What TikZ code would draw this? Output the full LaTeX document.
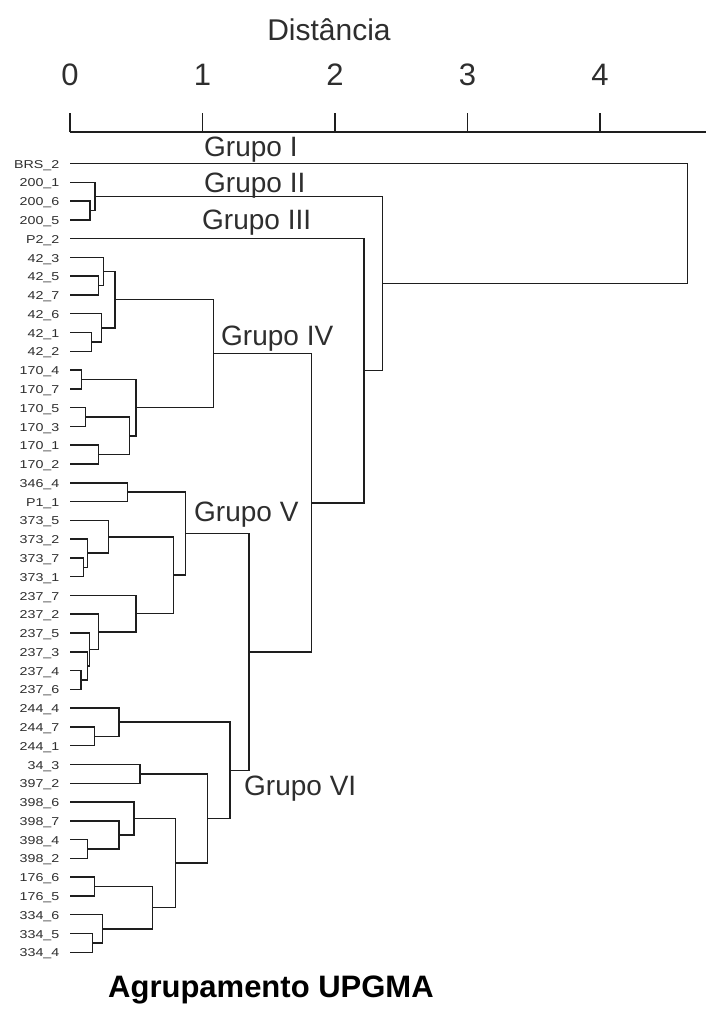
\documentclass[tikz,border=0pt]{standalone}
\usepackage{fontspec}
\setmainfont{Liberation Sans}
\newfontfamily\leaffont[FakeStretch=1.25]{Liberation Sans}
\usetikzlibrary{calc}
\definecolor{ink}{HTML}{1E1E1E}
\definecolor{txt}{HTML}{2E2E2E}
\tikzset{
  dline/.style={draw=ink, line width=1.5pt},
  leaflab/.style={inner sep=0pt, text=txt, font=\leaffont\fontsize{11.4}{12}\selectfont},
  grplab/.style={inner sep=0pt, text=txt, font=\fontsize{28}{30}\selectfont, anchor=base west},
  ticklab/.style={inner sep=0pt, text=txt, font=\fontsize{31}{32}\selectfont, anchor=base},
}
\newcommand\dmerge[4]{%
  \path let \p1=(#2), \p2=(#3) in (#4pt,{0.5*(\y1+\y2)}) coordinate (#1);
  \draw[dline] (#2) -| (#1) |- (#3);
}
\begin{document}
\begin{tikzpicture}[x=1pt,y=-1pt]
\fill[white] (0,0) rectangle (706,1012);
\useasboundingbox (0,0) rectangle (706,1012);
% axis
\node[inner sep=0pt, text=txt, font=\fontsize{30}{32}\selectfont, anchor=base] (dist) at (329,40) {Distância};
\coordinate (ax0) at (70,132);
\coordinate (ax1) at (706,132);
\draw[dline] (ax0) -- (ax1);
\foreach \k in {0,...,4}{
  \coordinate (tk\k) at ({70+132.5*\k},132);
  \coordinate (tt\k) at ({70+132.5*\k},113);
  \draw[dline] (tk\k) -- (tt\k);
  \node[ticklab] (tl\k) at ({70+132.5*\k},85) {\k};
}
% leaves
\foreach \lab [count=\i from 0] in {BRS\_2,200\_1,200\_6,200\_5,P2\_2,42\_3,42\_5,42\_7,42\_6,42\_1,42\_2,170\_4,170\_7,170\_5,170\_3,170\_1,170\_2,346\_4,P1\_1,373\_5,373\_2,373\_7,373\_1,237\_7,237\_2,237\_5,237\_3,237\_4,237\_6,244\_4,244\_7,244\_1,34\_3,397\_2,398\_6,398\_7,398\_4,398\_2,176\_6,176\_5,334\_6,334\_5,334\_4}{
  \pgfmathsetmacro\yy{163.5+18.78*\i}
  \node[leaflab, anchor=base east] (l\i) at (59.5,\yy+4.6) {\lab};
  \coordinate (p\i) at (70,\yy);
}
% Grupo II (200)
\dmerge{m1}{p2}{p3}{90}
\dmerge{m2}{p1}{m1}{95}
% 42 cluster
\dmerge{a1}{p6}{p7}{98.3}
\dmerge{a2}{p5}{a1}{103.3}
\dmerge{a3}{p9}{p10}{91.7}
\dmerge{a4}{p8}{a3}{101.7}
\dmerge{a5}{a2}{a4}{115}
% 170 cluster
\dmerge{b1}{p11}{p12}{81.7}
\dmerge{b2}{p13}{p14}{85.7}
\dmerge{b3}{p15}{p16}{98.3}
\dmerge{b4}{b2}{b3}{129.3}
\dmerge{b5}{b1}{b4}{136}
\dmerge{g4}{a5}{b5}{213.5}
% Grupo V
\dmerge{c1}{p17}{p18}{127.7}
\dmerge{c2}{p21}{p22}{83.3}
\dmerge{c3}{p20}{c2}{87.3}
\dmerge{c4}{p19}{c3}{108.3}
\dmerge{d1}{p27}{p28}{81}
\dmerge{d2}{p26}{d1}{87.3}
\dmerge{d3}{p25}{d2}{89.5}
\dmerge{d4}{p24}{d3}{98.3}
\dmerge{d5}{p23}{d4}{136}
\dmerge{c5}{c4}{d5}{173.3}
\dmerge{g5}{c1}{c5}{185.7}
% Grupo VI
\dmerge{e1}{p30}{p31}{94.3}
\dmerge{e2}{p29}{e1}{119}
\dmerge{f1}{p32}{p33}{140}
\dmerge{h1}{p36}{p37}{87.7}
\dmerge{h2}{p35}{h1}{119}
\dmerge{h3}{p34}{h2}{134}
\dmerge{k1}{p38}{p39}{94.3}
\dmerge{k2}{p41}{p42}{92.3}
\dmerge{k3}{p40}{k2}{102.3}
\dmerge{k4}{k1}{k3}{152.7}
\dmerge{h4}{h3}{k4}{175.7}
\dmerge{f2}{f1}{h4}{207.3}
\dmerge{g6}{e2}{f2}{230}
% upper levels
\dmerge{g56}{g5}{g6}{249}
\dmerge{g456}{g4}{g56}{311.3}
\dmerge{g3}{p4}{g456}{363.8}
\dmerge{g23}{m2}{g3}{382.7}
\dmerge{root}{p0}{g23}{687.7}
% group labels
\node[grplab] (G1) at (204,156.5) {Grupo I};
\node[grplab] (G2) at (204,192) {Grupo II};
\node[grplab] (G3) at (202,229.5) {Grupo III};
\node[grplab] (G4) at (221,345) {Grupo IV};
\node[grplab] (G5) at (194,521.5) {Grupo V};
\node[grplab] (G6) at (244,795) {Grupo VI};
% title
\node[inner sep=0pt, text=black, font=\bfseries\fontsize{31}{33}\selectfont, anchor=base west] (title) at (108,997) {Agrupamento UPGMA};
\end{tikzpicture}
\end{document}
